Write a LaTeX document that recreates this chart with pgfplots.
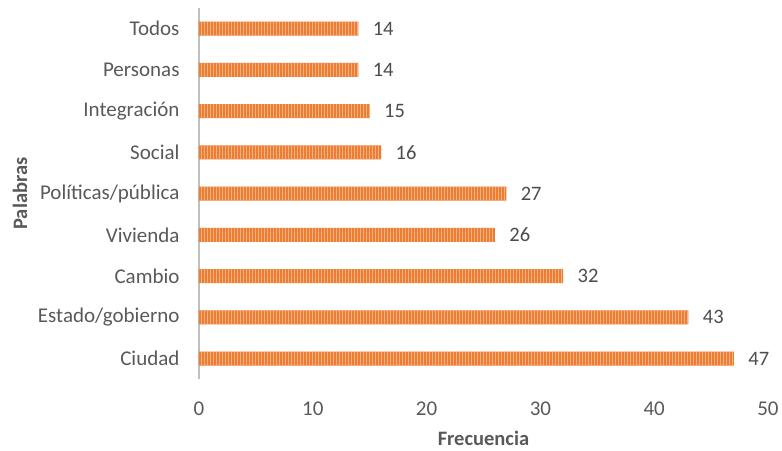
\documentclass[border=0pt]{standalone}
\usepackage{fontspec}
\setmainfont{Carlito}
\usepackage{pgfplots}
\pgfplotsset{compat=1.18}
\usetikzlibrary{patterns}
\definecolor{barorange}{HTML}{ED7D31}
\definecolor{stripe}{HTML}{F5B183}
\definecolor{txtgray}{HTML}{595959}
\definecolor{axgray}{HTML}{BFBFBF}
\begin{document}
\begin{tikzpicture}[x=1pt,y=1pt]
\begin{axis}[
  at={(0,0)}, anchor=south west,
  scale only axis, width=569pt, height=371.25pt,
  xmin=0, xmax=50, ymin=-0.5, ymax=8.5,
  xbar, bar width=14pt,
  xtick={0,10,...,50},
  ytick={0,...,8},
  yticklabels={Ciudad,Estado/gobierno,Cambio,Vivienda,Políticas/pública,Social,Integración,Personas,Todos},
  major tick length=0pt,
  axis x line*=bottom, x axis line style={draw=none},
  axis y line*=left, y axis line style={draw=axgray, line width=2.2pt, -},
  /pgf/number format/assume math mode=true,
  tick label style={font=\fontsize{21}{25}\selectfont, text=txtgray},
  xticklabel style={yshift=-19pt},
  yticklabel style={xshift=-16pt},
  xlabel={\textbf{Frecuencia}},
  ylabel={\textbf{Palabras}},
  label style={font=\fontsize{20.5}{24}\selectfont, text=txtgray},
  xlabel style={at={(axis description cs:0.5,0)}, anchor=center, yshift=-59pt},
  ylabel style={at={(axis description cs:-0.3146,0.5)}, anchor=center, rotate=0},
  nodes near coords,
  every node near coord/.append style={font=\fontsize{20.5}{24}\selectfont, text=txtgray!85!black, anchor=west, xshift=11pt},
  clip=false,
]
\addplot[draw=none, fill=barorange, postaction={pattern=vertical lines, pattern color=stripe}] coordinates {
(47,0) (43,1) (32,2) (26,3) (27,4) (16,5) (15,6) (14,7) (14,8)};
\end{axis}
\pgfresetboundingbox
\path[use as bounding box] (-199,-71) rectangle (583,379.25);
\end{tikzpicture}
\end{document}
